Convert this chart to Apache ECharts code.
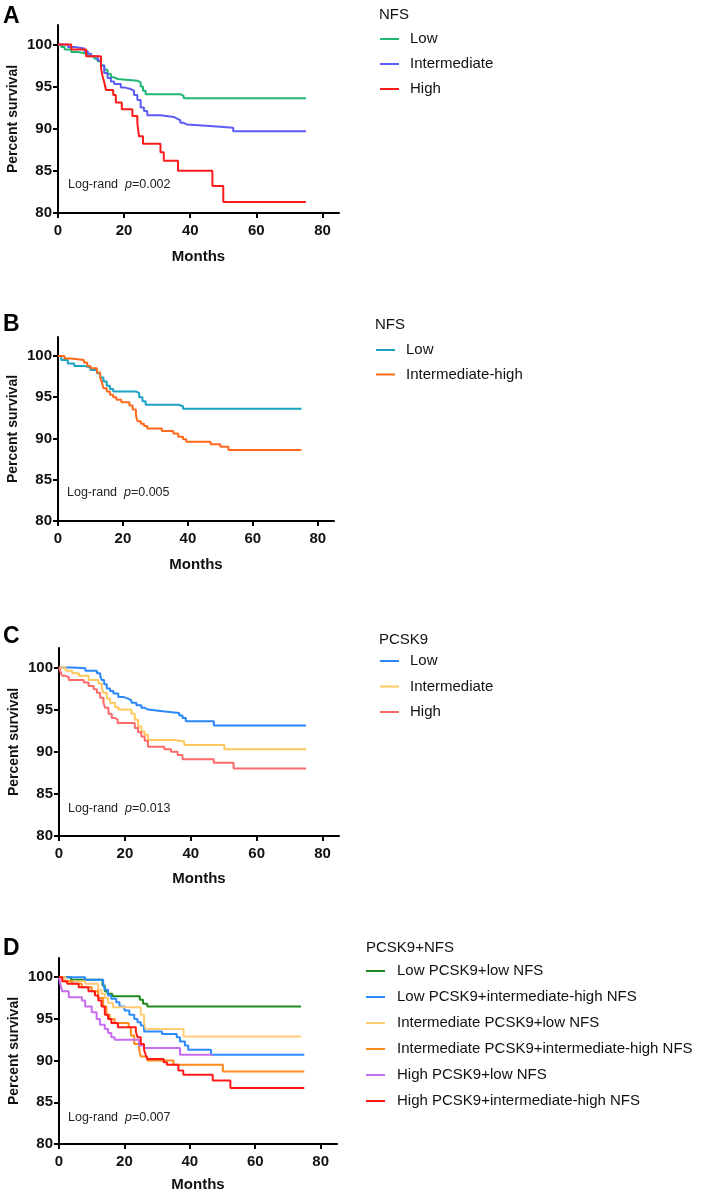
<!DOCTYPE html>
<html>
<head>
<meta charset="utf-8">
<script src="https://cdn.jsdelivr.net/npm/echarts@6/dist/echarts.min.js"></script>
<style>html,body{margin:0;padding:0;background:#fff}#c{width:709px;height:1193px}</style>
</head>
<body>
<div id="c"></div>
<script>
// ---------- Data (months, percent survival) ----------
const xTicks = [0, 20, 40, 60, 80];
const yTicks = [80, 85, 90, 95, 100];

// Panel A: NFS
const aLowT = [0,1,2,4,6,9,11,12,13,14,15,16,17,18,24,25,25.7,26.5,37,38,75];
const aLowS = [100,99.7,99.4,99.1,98.9,98.6,98.3,98.0,97.5,97.0,96.5,96.1,95.9,95.7,95.5,95.0,94.5,94.1,93.9,93.6,93.6];
const aIntT = [0,3,5,8,9,10,12,13,14,15,16,17,19,20,22,23,24,25,26,27,31,35,36,37,38,39,47,53,75];
const aIntS = [100,99.7,99.5,99.2,98.9,98.6,98.1,97.5,96.6,96.0,95.6,95.3,94.9,94.7,94.5,94.0,93.4,92.5,92.1,91.6,91.4,91.2,91.0,90.7,90.5,90.3,90.1,89.7,89.7];
const aHighT = [0,4,8.5,13,13.5,14,14.5,16.7,17.5,19.3,22.5,24,24.5,25.7,31,32,36.3,46.7,50,75];
const aHighS = [100,99.4,98.6,97.2,96.2,95.5,94.6,94.0,93.1,92.3,91.5,90.7,89.1,88.2,87.2,86.2,85.0,83.2,81.3,81.3];

// Panel B: NFS
const bLowT = [0,1,3,5,8,10,12,13,14,15,16,17,24,25,26,27,37,38.5,75];
const bLowS = [100,99.5,99.1,98.8,98.6,98.3,97.9,97.4,96.9,96.4,96.0,95.7,95.5,95.0,94.5,94.1,93.9,93.6,93.6];
const bIHT = [0,2,4,8,9,10,12,13,13.5,14,15,16,17,18,19.5,22,23,24,24.5,25.5,26.5,27.5,32,35.5,37,38.5,39.5,47,50,52.5,75];
const bIHS = [100,99.7,99.5,99.2,98.8,98.5,98.0,97.4,96.8,96.1,95.7,95.3,95.0,94.7,94.4,94.0,93.5,92.8,92.1,91.8,91.5,91.2,90.9,90.6,90.2,89.9,89.6,89.3,89.0,88.6,88.6];

// Panel C: PCSK9
const cLowT = [0,4,8,11.5,12.5,13,13.7,14.5,15.5,16.5,18,19.5,21,22,23.5,25,26,27,31.5,36.5,37.5,38.5,47,75];
const cLowS = [100,99.9,99.6,99.3,99.0,98.5,98.0,97.5,97.2,96.9,96.5,96.3,96.1,95.8,95.5,95.2,95.0,94.8,94.6,94.3,94.0,93.6,93.1,93.1];
const cIntT = [0,2,4,6,9,12,13,13.5,14.5,15.5,17,18,22,23,24,25,26,27,35,38,50.2,75];
const cIntS = [100,99.6,99.3,99.0,98.5,98.1,97.5,97.0,96.3,95.8,95.3,95.0,94.5,93.8,93.0,92.4,92.0,91.4,91.2,90.8,90.3,90.3];
const cHighT = [0,0.5,1,2,3,7.5,9,10.5,11.5,12.5,13.5,14,15,16,17,17.8,23,24,25,26,27,32,34,36,37.5,47,53,75];
const cHighS = [100,99.4,99.0,98.8,98.5,98.2,97.8,97.4,97.0,96.4,95.8,95.2,94.5,94.0,93.8,93.4,92.8,92.3,91.8,91.3,90.6,90.3,90.0,89.6,89.1,88.7,88.0,88.0];

// Panel D: PCSK9+NFS
const dLLT = [0,3.7,13.3,14,14.8,16.3,24.7,25.7,27,74];
const dLLS = [100,99.7,99.0,98.3,98.0,97.7,97.3,96.8,96.5,96.5];
const dLIT = [0,8,13.5,14,15,16,17.5,18.5,20,21.5,23,24,25,26,31.5,36,37,38.5,39.5,46.5,75];
const dLIS = [100,99.7,99.3,98.5,97.8,97.4,97.0,96.5,96.0,95.5,95.0,94.6,94.2,93.5,93.2,92.8,92.3,91.8,91.3,90.7,90.7];
const dILT = [0,2,8,12,13,14,15,16.5,25,26,26.5,38.1,74];
const dILS = [100,99.5,99.2,98.5,98.0,97.5,96.9,96.4,95.5,94.5,93.8,92.9,92.9];
const dIIT = [0,1,4,7,10,12,13.5,14.5,15.5,17,21.3,22,23,24.5,25,27,35,50.1,75];
const dIIS = [100,99.5,99.2,98.8,98.3,97.5,96.5,95.5,95.0,94.5,94.0,93.0,92.0,91.3,90.5,90.0,89.5,88.7,88.7];
const dHLT = [0,0.5,1,3,7,8,10,11.5,12.5,14,15,16,17,24.5,26,37,47];
const dHLS = [100,99.0,98.3,97.6,97.2,96.5,95.8,95.0,94.3,93.8,93.3,92.8,92.5,91.8,91.5,90.7,90.7];
const dHIT = [0,1,2.5,6,9,11,12,13,14,15,16,18,23.5,24,25,26,26.5,27,32,33,36.5,38,47,52.4,75];
const dHIS = [100,99.5,99.2,98.8,98.3,97.8,97.2,96.5,95.5,95.0,94.5,94.0,93.5,92.8,92.0,91.3,90.7,90.2,89.8,89.5,88.8,88.3,87.6,86.7,86.7];

const panels = [
  { letter: 'A', title: 'NFS', p: '0.002', series: [
    { name: 'Low', t: aLowT, s: aLowS, color: '#1fb873' },
    { name: 'Intermediate', t: aIntT, s: aIntS, color: '#5c5cf6' },
    { name: 'High', t: aHighT, s: aHighS, color: '#fb1b1b' } ] },
  { letter: 'B', title: 'NFS', p: '0.005', series: [
    { name: 'Low', t: bLowT, s: bLowS, color: '#1aa2c2' },
    { name: 'Intermediate-high', t: bIHT, s: bIHS, color: '#ff6a1c' } ] },
  { letter: 'C', title: 'PCSK9', p: '0.013', series: [
    { name: 'Low', t: cLowT, s: cLowS, color: '#2b86fb' },
    { name: 'Intermediate', t: cIntT, s: cIntS, color: '#ffc75e' },
    { name: 'High', t: cHighT, s: cHighS, color: '#fc6a6a' } ] },
  { letter: 'D', title: 'PCSK9+NFS', p: '0.007', series: [
    { name: 'Low PCSK9+low NFS', t: dLLT, s: dLLS, color: '#1f8b1f' },
    { name: 'Low PCSK9+intermediate-high NFS', t: dLIT, s: dLIS, color: '#2b8aff' },
    { name: 'Intermediate PCSK9+low NFS', t: dILT, s: dILS, color: '#ffcb74' },
    { name: 'Intermediate PCSK9+intermediate-high NFS', t: dIIT, s: dIIS, color: '#ff8a1c' },
    { name: 'High PCSK9+low NFS', t: dHLT, s: dHLS, color: '#c86cf2' },
    { name: 'High PCSK9+intermediate-high NFS', t: dHIT, s: dHIS, color: '#ff1a1a' } ] }
];

// ---------- Layout ----------
const FONT = '"Liberation Sans", Arial, sans-serif';
const grids = [
  { left: 58, top: 25, width: 281, height: 188 },
  { left: 58, top: 337, width: 276, height: 184 },
  { left: 59, top: 648, width: 280, height: 188 },
  { left: 59, top: 958, width: 278, height: 188 }
];
const letterPos = [[3, 5], [3, 313], [3, 625], [3, 937]];
const logPos = [[68, 185], [67, 493], [68, 809], [68, 1118]];
const legendCfg = [
  { titleX: 379, titleY: 15, left: 380, first: 39, step: 25, gapTxt: 6 },
  { titleX: 375, titleY: 325, left: 376, first: 350, step: 24.5, gapTxt: 6 },
  { titleX: 379, titleY: 640, left: 380, first: 661, step: 25.5, gapTxt: 6 },
  { titleX: 366, titleY: 948, left: 366, first: 971, step: 26, gapTxt: 7 }
];
const nameGaps = [36, 36, 35, 33];

const option = {
  animation: false,
  backgroundColor: '#fff',
  textStyle: { fontFamily: FONT },
  grid: [], xAxis: [], yAxis: [], series: [], legend: [], graphic: []
};

panels.forEach((pn, i) => {
  const g = grids[i];
  option.grid.push(Object.assign({ containLabel: false }, g));
  option.xAxis.push({
    type: 'value', gridIndex: i, min: 0, max: 85,
    name: 'Months', nameLocation: 'middle', nameGap: nameGaps[i],
    nameTextStyle: { fontSize: 15, fontWeight: 'bold', color: '#111', fontFamily: FONT },
    axisLine: { onZero: false, lineStyle: { color: '#000', width: 2 } },
    axisTick: { show: true, length: 5, inside: false, lineStyle: { color: '#000', width: 2 }, customValues: xTicks },
    axisLabel: { fontSize: 15, fontWeight: 'bold', color: '#111', margin: 10, fontFamily: FONT, customValues: xTicks },
    splitLine: { show: false }
  });
  option.yAxis.push({
    type: 'value', gridIndex: i, min: 80, max: 102.3,
    name: 'Percent survival', nameLocation: 'middle', nameGap: 38, nameRotate: 90,
    nameTextStyle: { fontSize: 14, fontWeight: 'bold', color: '#111', fontFamily: FONT },
    axisLine: { onZero: false, lineStyle: { color: '#000', width: 2 } },
    axisTick: { show: true, length: 5, lineStyle: { color: '#000', width: 2 }, customValues: yTicks },
    axisLabel: { fontSize: 15, fontWeight: 'bold', color: '#111', margin: 6, fontFamily: FONT, customValues: yTicks },
    splitLine: { show: false }
  });
  const names = [];
  pn.series.forEach((sr) => {
    const uid = pn.letter + '|' + sr.name;
    names.push(uid);
    option.series.push({
      type: 'line', name: uid, xAxisIndex: i, yAxisIndex: i,
      step: 'end', showSymbol: false, symbol: 'none',
      lineStyle: { color: sr.color, width: 2 }, itemStyle: { color: sr.color },
      data: sr.t.map((t, k) => [t, sr.s[k]])
    });
  });
  const lc = legendCfg[i];
  option.legend.push({
    orient: 'vertical', left: lc.left, top: lc.first - 8, padding: 0,
    data: names, icon: 'rect', itemWidth: 19, itemHeight: 2,
    itemGap: lc.step - 16, selectedMode: false,
    formatter: (n) => n.split('|')[1],
    textStyle: { fontSize: 15, color: '#111', lineHeight: 16, height: 16, padding: [0, 0, 0, lc.gapTxt], fontFamily: FONT }
  });
  option.graphic.push({
    type: 'text', left: lc.titleX, top: lc.titleY - 8,
    style: { text: pn.title, fontSize: 15, fill: '#111', fontFamily: FONT }
  });
  option.graphic.push({
    type: 'text', left: letterPos[i][0], top: letterPos[i][1],
    style: { text: pn.letter, fontSize: 23, fontWeight: 'bold', fill: '#000', fontFamily: FONT }
  });
  option.graphic.push({
    type: 'text', left: logPos[i][0], top: logPos[i][1] - 7,
    style: {
      text: '{n|Log-rand  }{i|p}{n|=' + pn.p + '}',
      rich: {
        n: { fontSize: 12.5, fill: '#222', fontFamily: FONT },
        i: { fontSize: 12.5, fill: '#222', fontStyle: 'italic', fontFamily: FONT }
      }
    }
  });
});

const chart = echarts.init(document.getElementById('c'), null, { renderer: 'canvas' });
chart.setOption(option);
</script>
</body>
</html>
